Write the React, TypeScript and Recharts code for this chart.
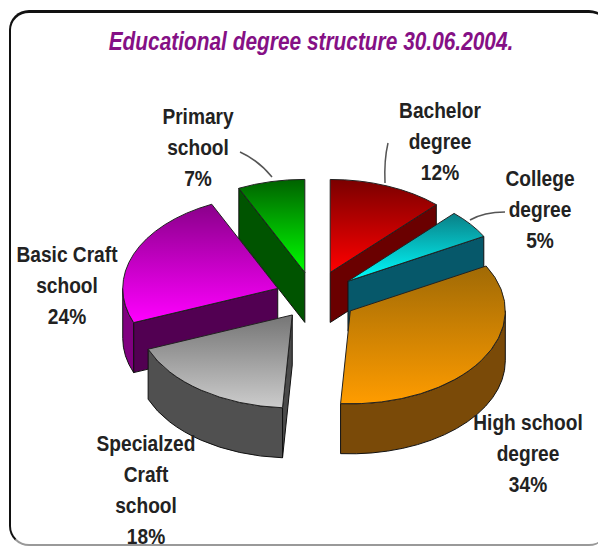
import React from "react";
import { PieChart, Pie } from "recharts";

const categories = [
  "Bachelor degree",
  "College degree",
  "High school degree",
  "Specialized Craft school",
  "Basic Craft school",
  "Primary school",
];
const shares = [12, 5, 34, 18, 24, 7];
const labelLines = [
  ["Bachelor", "degree"],
  ["College", "degree"],
  ["High school", "degree"],
  ["Specialzed", "Craft", "school"],
  ["Basic Craft", "school"],
  ["Primary", "school"],
];
// how far each wedge is pulled out of the pie
const explode = [44, 43, 43, 37, 39, 42];

// top face gradient [far, near], cut wall, rim wall
const topColors = [
  ["#7a0000", "#ff0000"],
  ["#0a7f86", "#00ffff"],
  ["#a06a05", "#ff9c00"],
  ["#757575", "#cccccc"],
  ["#8a008a", "#ff00ff"],
  ["#006200", "#00ff00"],
];
const cutWalls = ["#6a0000", "#06586a", "#7a4a08", "#4a4a4a", "#520052", "#005400"];
const rimWalls = ["#800000", "#006a78", "#7a4a08", "#505050", "#800080", "#006600"];

const labelAnchors = [
  [440, 118],
  [540, 186],
  [528, 430],
  [146, 451],
  [67, 262],
  [198, 124],
];
const leaders: (string | null)[] = [
  "M388 143 Q384 160 385 183",
  "M505 212 Q484 212 470 220",
  null,
  null,
  null,
  "M240 152 Q258 160 272 177",
];

const tableFor = (order: number[]) =>
  order.map((i) => ({
    name: categories[i],
    value: shares[i],
    index: i,
    fill: `url(#face-${i})`,
  }));

const clockwise = tableFor([0, 1, 2, 3, 4, 5]);
const counterClockwise = tableFor([5, 4, 3, 2, 1, 0]);

const TILT = 0.6;
const DEPTH = 50;
const LINE_GAP = 31;
const NARROW = 0.87;
const rad = (d: number) => (d * Math.PI) / 180;

// Wedge drawn as a flattened, extruded sector. The right half of the pie is painted
// clockwise and the left half counter-clockwise, so nearer wedges overlap farther ones.
const wedge = (visible: number[]) => (props: any) => {
  const { cx, cy, outerRadius, startAngle, endAngle, payload } = props;
  const i = payload.index as number;
  if (!visible.includes(i)) return <g />;
  let a = 90 - Math.max(startAngle, endAngle);
  let b = 90 - Math.min(startAngle, endAngle);
  if (a < 0) {
    a += 360;
    b += 360;
  }
  const mid = rad((a + b) / 2);
  const rx = outerRadius;
  const ry = outerRadius * TILT;
  const ox = cx + Math.sin(mid) * explode[i];
  const oy = cy - Math.cos(mid) * explode[i] * TILT;
  const px = (t: number) => ox + rx * Math.sin(rad(t));
  const py = (t: number) => oy - ry * Math.cos(rad(t));
  const big = b - a > 180 ? 1 : 0;

  const cutWall = (t: number) =>
    `M${ox} ${oy}L${px(t)} ${py(t)}L${px(t)} ${py(t) + DEPTH}L${ox} ${oy + DEPTH}Z`;
  const from = Math.max(a, 90);
  const to = Math.min(b, 270);

  return (
    <g>
      {a > 180 && <path d={cutWall(a)} fill={cutWalls[i]} stroke="#111" strokeWidth={1} />}
      {b < 180 && <path d={cutWall(b)} fill={cutWalls[i]} stroke="#111" strokeWidth={1} />}
      {to > from && (
        <path
          d={`M${px(from)} ${py(from)}A${rx} ${ry} 0 0 1 ${px(to)} ${py(to)}L${px(to)} ${py(to) + DEPTH}A${rx} ${ry} 0 0 0 ${px(from)} ${py(from) + DEPTH}Z`}
          fill={rimWalls[i]}
          stroke="#111"
          strokeWidth={1}
        />
      )}
      <path
        d={`M${ox} ${oy}L${px(a)} ${py(a)}A${rx} ${ry} 0 ${big} 1 ${px(b)} ${py(b)}Z`}
        fill={`url(#face-${i})`}
        stroke="#222"
        strokeWidth={1}
      />
    </g>
  );
};

const labelFor = (visible: number[]) => (props: any) => {
  const i = props.payload.index as number;
  if (!visible.includes(i)) return <g />;
  const [x, y] = labelAnchors[i];
  const lines = [...labelLines[i], `${shares[i]}%`];
  return (
    <g>
      {leaders[i] && <path d={leaders[i] as string} fill="none" stroke="#555" strokeWidth={1.5} />}
      <text
        textAnchor="middle"
        transform={`translate(${x} 0) scale(${NARROW} 1)`}
        fontFamily="'Liberation Sans', sans-serif"
        fontWeight="bold"
        fontSize={22}
        fill="#222"
      >
        {lines.map((line, k) => (
          <tspan key={line} x={0} y={y + k * LINE_GAP}>
            {line}
          </tspan>
        ))}
      </text>
    </g>
  );
};

const rightHalf = [0, 1, 2];
const leftHalf = [5, 4, 3];

export default function App() {
  return (
    <div style={{ position: "absolute", left: 0, top: 0, width: 598, height: 546, background: "#fff", overflow: "hidden" }}>
      <PieChart width={598} height={546} margin={{ top: 0, right: 0, bottom: 0, left: 0 }}>
        <defs>
          {topColors.map(([far, near], i) => (
            <linearGradient key={i} id={`face-${i}`} x1="0" y1="0" x2="0" y2="1">
              <stop offset="0%" stopColor={far} />
              <stop offset="100%" stopColor={near} />
            </linearGradient>
          ))}
        </defs>
        <text
          textAnchor="middle"
          transform="translate(311 50) scale(0.835 1)"
          fontFamily="'Liberation Sans', sans-serif"
          fontWeight="bold"
          fontStyle="italic"
          fontSize={25}
          fill="#851085"
        >
          Educational degree structure 30.06.2004.
        </text>
        <Pie
          data={clockwise}
          dataKey="value"
          nameKey="name"
          cx={314}
          cy={297}
          innerRadius={0}
          outerRadius={155}
          startAngle={90}
          endAngle={-270}
          paddingAngle={0}
          stroke="none"
          shape={wedge(rightHalf)}
          label={labelFor(rightHalf)}
          labelLine={false}
          isAnimationActive={false}
        />
        <Pie
          data={counterClockwise}
          dataKey="value"
          nameKey="name"
          cx={314}
          cy={297}
          innerRadius={0}
          outerRadius={155}
          startAngle={90}
          endAngle={450}
          paddingAngle={0}
          stroke="none"
          shape={wedge(leftHalf)}
          label={labelFor(leftHalf)}
          labelLine={false}
          isAnimationActive={false}
        />
      </PieChart>
      {/* rounded card frame, its right side runs off the page */}
      <div
        style={{
          position: "absolute",
          left: 9,
          top: 10,
          width: 600,
          height: 536,
          boxSizing: "border-box",
          borderTop: "3px solid #111",
          borderLeft: "2px solid #111",
          borderBottom: "2px solid #999",
          borderRadius: 20,
        }}
      />
    </div>
  );
}
